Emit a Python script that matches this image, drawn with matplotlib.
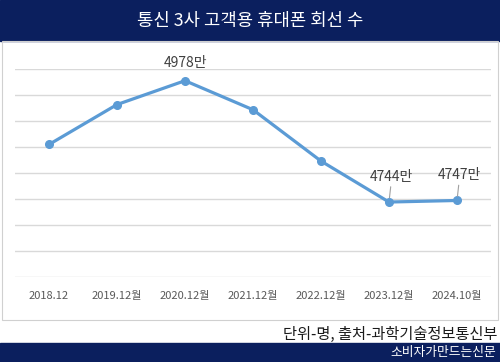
import matplotlib.pyplot as plt
from matplotlib.patches import Rectangle

plt.rcParams['font.family'] = ['Noto Sans CJK KR', 'DejaVu Sans']

# data
periods = ['2018.12', '2019.12월', '2020.12월', '2021.12월', '2022.12월', '2023.12월', '2024.10월']
lines_10k = [4855, 4932, 4978, 4922, 4823, 4744, 4747]
labelled = {2: '4978만', 5: '4744만', 6: '4747만'}

title = '통신 3사 고객용 휴대폰 회선 수'
source = '단위-명, 출처-과학기술정보통신부'
brand = '소비자가만드는신문'

W, H = 500, 362
navy = '#0b1f5e'
blue = '#5b9bd5'

fig = plt.figure(figsize=(W / 100, H / 100), dpi=100)

# bands and frame (figure pixels -> fraction)
def fx(px): return px / W
def fy(py): return 1 - py / H

fig.patches.append(Rectangle((0, fy(41)), 1, 41 / H, transform=fig.transFigure,
                             color=navy, zorder=0))
fig.patches.append(Rectangle((0, 0), 1, 19 / H, transform=fig.transFigure,
                             color=navy, zorder=0))
fig.patches.append(Rectangle((fx(2), fy(320)), fx(496), (320 - 41) / H,
                             transform=fig.transFigure, fill=False,
                             edgecolor='#d0d0d0', lw=0.8, zorder=0))

fig.text(0.5, fy(21), title, color='white', fontsize=12.8, ha='center', va='center')
fig.text(fx(497), fy(334), source, color='#1a1a1a', fontsize=11, ha='right', va='center')
fig.text(fx(496), fy(352.5), brand, color='white', fontsize=9.2, ha='right', va='center')

# plot area
ax = fig.add_axes([fx(15), fy(276.7), fx(476), (276.7 - 69.3) / H])
x = list(range(len(periods)))
ax.plot(x, lines_10k, color=blue, lw=2.3, marker='o', ms=5.5, zorder=3)

ax.set_xlim(-0.5, len(periods) - 0.5)
ax.set_ylim(4600, 5000)
ax.set_yticks(range(4600, 5001, 50))
ax.yaxis.grid(True, color='#d9d9d9', lw=1.0)
ax.set_axisbelow(True)
ax.tick_params(axis='y', left=False, labelleft=False)
ax.tick_params(axis='x', length=0, pad=10, labelsize=8, labelcolor='#595959')
ax.set_xticks(x)
ax.set_xticklabels(periods)
for s in ax.spines.values():
    s.set_visible(False)

for i, txt in labelled.items():
    if i == 2:
        ax.annotate(txt, (i, lines_10k[i]), xytext=(0, 8), textcoords='offset points',
                    ha='center', va='bottom', fontsize=10, color='#404040')
    else:
        ax.annotate(txt, (i, lines_10k[i]), xytext=(2, 13), textcoords='offset points',
                    ha='center', va='bottom', fontsize=10, color='#404040',
                    arrowprops=dict(arrowstyle='-', color='#a0a0a0', lw=0.8,
                                    shrinkA=0, shrinkB=3))

fig.savefig('out.png', dpi=100)
